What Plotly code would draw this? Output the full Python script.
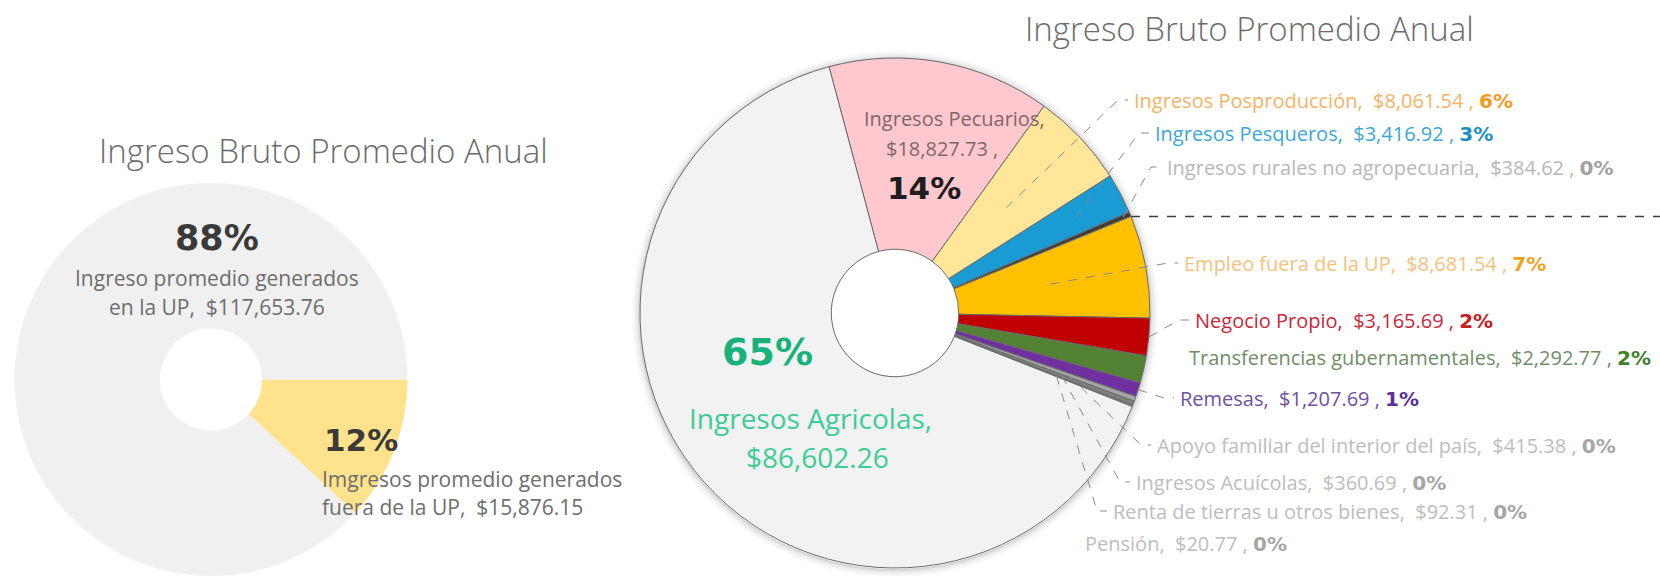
import math
import plotly.graph_objects as go

# ---- data ---------------------------------------------------------------
# Left chart: income generated inside / outside the UP
origen_labels = ["Imgresos promedio generados<br>fuera de la UP", "Ingreso promedio generados<br>en la UP"]
origen_values = [15876.15, 117653.76]

# Right chart: income by source (clockwise order)
fuente_labels = [
    "Ingresos Pecuarios",
    "Ingresos Posproducción",
    "Ingresos Pesqueros",
    "Ingresos rurales no agropecuaria",
    "Empleo fuera de la UP",
    "Negocio Propio",
    "Transferencias gubernamentales",
    "Remesas",
    "Apoyo familiar del interior del país",
    "Ingresos Acuícolas",
    "Renta de tierras u otros bienes",
    "Pensión",
    "Ingresos Agricolas",
]
fuente_values = [
    18827.73, 8061.54, 3416.92, 384.62, 8681.54, 3165.69,
    2292.77, 1207.69, 415.38, 360.69, 92.31, 20.77, 86602.26,
]

# ---- styling ------------------------------------------------------------
W, H = 1660, 576
slice_colors = [
    "#ffc7ce", "#ffe699", "#1a9bd3", "#3d3d3d", "#ffc000", "#c00000",
    "#548235", "#7030a0", "#a5a5a5", "#7f7f7f", "#d9d9d9", "#595959", "#f2f2f2",
]
text_colors = {
    "Ingresos Posproducción": ("#f5b266", "#f29a26"),
    "Ingresos Pesqueros": ("#3aa7d6", "#1b8ec4"),
    "Ingresos rurales no agropecuaria": ("#b8b8b8", "#a2a2a2"),
    "Empleo fuera de la UP": ("#f3c27e", "#efa31c"),
    "Negocio Propio": ("#c8283a", "#cc1a22"),
    "Transferencias gubernamentales": ("#6f8f66", "#3f7f2e"),
    "Remesas": ("#6e4fa0", "#56309a"),
    "Apoyo familiar del interior del país": ("#bdbdbd", "#a6a6a6"),
    "Ingresos Acuícolas": ("#bdbdbd", "#a6a6a6"),
    "Renta de tierras u otros bienes": ("#bdbdbd", "#a6a6a6"),
    "Pensión": ("#bdbdbd", "#a6a6a6"),
}
# label anchor (left x, centre y) in pixels and leader start radius fraction
label_layout = {
    "Ingresos Posproducción": (1132, 100, 0.60),
    "Ingresos Pesqueros": (1153, 133, 0.80),
    "Ingresos rurales no agropecuaria": (1165, 167, 0.97),
    "Empleo fuera de la UP": (1182, 263, 0.62),
    "Negocio Propio": (1193, 320, 1.0),
    "Transferencias gubernamentales": (1187, 357, None),
    "Remesas": (1178, 398, 1.0),
    "Apoyo familiar del interior del país": (1155, 445, 0.72),
    "Ingresos Acuícolas": (1134, 482, 0.70),
    "Renta de tierras u otros bienes": (1111, 511, 0.68),
    "Pensión": (1083, 543, None),
}

BODY = "Open Sans"
BOLD = "DejaVu Sans"

# pie geometry in pixels
L_CX, L_CY, L_R = 211, 381, 198
R_CX, R_CY, R_R = 895, 313, 255
R_ROT = -15


def fx(x):
    return x / W


def fy(y):
    return 1 - y / H


def money(v):
    return f"${v:,.2f}"


def pct(v, total):
    return f"{round(100 * v / total)}%"


def pie_point(cx, cy, r, ang):
    a = math.radians(ang)
    return cx + r * math.sin(a), cy - r * math.cos(a)


fig = go.Figure()

# left doughnut
l_y0 = max(0.0, fy(L_CY + L_R))
fig.add_trace(go.Pie(
    values=origen_values,
    labels=origen_labels,
    marker=dict(colors=["#ffe28c", "#f0f0f0"], line=dict(width=0)),
    hole=0.26,
    sort=False,
    direction="clockwise",
    rotation=90,
    textinfo="none",
    hoverinfo="label+value+percent",
    showlegend=False,
    domain=dict(x=[fx(L_CX - L_R), fx(L_CX + L_R)], y=[l_y0, fy(L_CY - L_R)]),
))

# right doughnut
fig.add_trace(go.Pie(
    values=fuente_values,
    labels=fuente_labels,
    marker=dict(colors=slice_colors, line=dict(width=1, color="#6a6a6a")),
    hole=0.25,
    sort=False,
    direction="clockwise",
    rotation=R_ROT,
    textinfo="none",
    hoverinfo="label+value+percent",
    showlegend=False,
    domain=dict(x=[fx(R_CX - R_R), fx(R_CX + R_R)], y=[fy(R_CY + R_R), fy(R_CY - R_R)]),
))

annotations = []
shapes = []


def text(x, y, s, size, color, family=BODY, anchor="center", weight="normal"):
    annotations.append(dict(
        x=fx(x), y=fy(y), xref="paper", yref="paper", text=s, showarrow=False,
        xanchor=anchor, yanchor="middle",
        font=dict(family=family, size=size, color=color, weight=weight),
    ))


# soft shadow ring around the right doughnut
for i, a in enumerate([0.16, 0.09, 0.05, 0.025]):
    rr = R_R + 1 + 2 * i
    shapes.append(dict(
        type="circle", xref="paper", yref="paper", layer="below",
        x0=fx(R_CX - rr), x1=fx(R_CX + rr),
        y0=fy(R_CY + rr + 1), y1=fy(R_CY - rr + 1),
        fillcolor="rgba(0,0,0,0)", line=dict(width=2, color=f"rgba(0,0,0,{a})"),
    ))

# ---- left chart texts ----
l_total = sum(origen_values)
text(323, 150, "Ingreso Bruto Promedio Anual", 33, "#6b6b6b", weight=300)
text(217, 238, f"<b>{pct(origen_values[1], l_total)}</b>", 35, "#3a3a3a", BOLD)
text(217, 278, "Ingreso promedio generados", 21, "#6e6e6e")
text(217, 307, f"en la UP,  {money(origen_values[1])}", 21, "#6e6e6e")
text(322, 440, f"<b>{pct(origen_values[0], l_total)}</b>", 31, "#3a3a3a", BOLD, "left")
text(320, 479, "Imgresos promedio generados", 21, "#6e6e6e", anchor="left")
text(320, 507, f"fuera de la UP,  {money(origen_values[0])}", 21, "#6e6e6e", anchor="left")

# ---- right chart texts ----
r_total = sum(fuente_values)
text(1249, 28, "Ingreso Bruto Promedio Anual", 33, "#6b6b6b", weight=300)

pec = fuente_values[0]
text(954, 118, "Ingresos Pecuarios,", 20, "#7d6868")
text(942, 148, f"{money(pec)} ,", 20, "#7d6868")
text(924, 188, f"<b>{pct(pec, r_total)}</b>", 31, "#1e1e1e", BOLD)

agr = fuente_values[-1]
text(767, 352, f"<b>{pct(agr, r_total)}</b>", 38, "#17b27b", BOLD)
text(810, 418, "Ingresos Agricolas,", 28, "#3dcc96")
text(817, 457, money(agr), 28, "#3dcc96")

# outside labels with dashed leaders
cum = 0.0
bounds = []
for name, v in zip(fuente_labels, fuente_values):
    a0 = R_ROT + 360 * cum / r_total
    cum += v
    a1 = R_ROT + 360 * cum / r_total
    bounds.append((name, a0, a1))
    if name not in label_layout:
        continue
    lx, ly, rf = label_layout[name]
    c_txt, c_pct = text_colors[name]
    s = (f"{name},  {money(v)} , "
         f"<span style=\"font-family:{BOLD};font-weight:bold;color:{c_pct}\">{pct(v, r_total)}</span>")
    text(lx, ly, s, 20, c_txt, anchor="left")
    if rf is not None:
        sx, sy = pie_point(R_CX, R_CY, R_R * rf, (a0 + a1) / 2)
        path = f"M {fx(sx)},{fy(sy)} L {fx(lx - 14)},{fy(ly)} L {fx(lx - 4)},{fy(ly)}"
        shapes.append(dict(type="path", xref="paper", yref="paper", path=path,
                           line=dict(color="#8a8a8a", width=1, dash="dash")))

# separator between income inside and outside the UP
sep_angle = [b for b in bounds if b[0] == "Ingresos rurales no agropecuaria"][0][2]
sx, sy = pie_point(R_CX, R_CY, R_R, sep_angle)
shapes.append(dict(type="line", xref="paper", yref="paper",
                   x0=fx(sx), y0=fy(sy), x1=1, y1=fy(sy),
                   line=dict(color="#404040", width=1.5, dash="dash")))

fig.update_layout(
    width=W, height=H,
    margin=dict(l=0, r=0, t=0, b=0),
    paper_bgcolor="white", plot_bgcolor="white",
    annotations=annotations, shapes=shapes,
)

fig.write_html("out.html")
